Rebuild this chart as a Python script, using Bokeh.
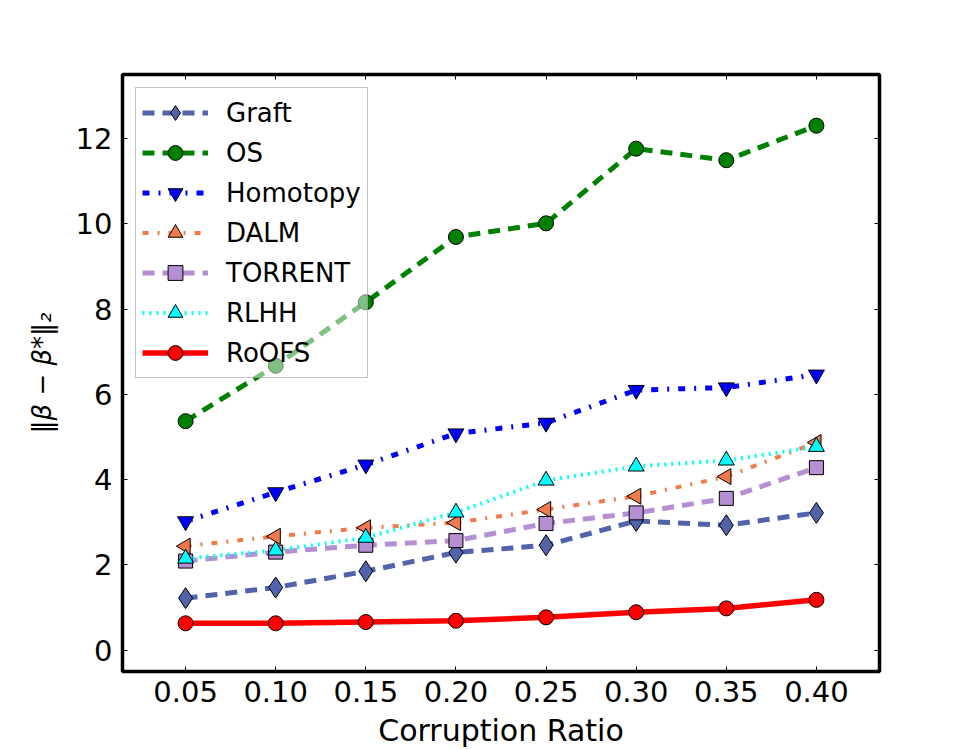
from bokeh.plotting import figure
from bokeh.models import (LinearAxis, FixedTicker, NumeralTickFormatter, Legend, LegendItem,
                          Range1d, CustomJSTickFormatter)
from bokeh.embed import file_html
from bokeh.resources import INLINE
import math

# ---- data ----
ratios = [0.05, 0.10, 0.15, 0.20, 0.25, 0.30, 0.35, 0.40]
graft = [1.22, 1.47, 1.85, 2.29, 2.46, 3.03, 2.93, 3.22]
os_vals = [5.37, 6.67, 8.16, 9.69, 10.01, 11.76, 11.49, 12.30]
homotopy = [3.02, 3.70, 4.35, 5.08, 5.33, 6.10, 6.16, 6.46]
dalm = [2.44, 2.67, 2.87, 2.99, 3.30, 3.61, 4.07, 4.87]
torrent = [2.09, 2.30, 2.46, 2.57, 2.97, 3.22, 3.56, 4.28]
rlhh = [2.15, 2.34, 2.64, 3.23, 3.98, 4.31, 4.45, 4.77]
roofs = [0.63, 0.63, 0.66, 0.69, 0.77, 0.89, 0.98, 1.18]

x_ticks = [0.05, 0.10, 0.15, 0.20, 0.25, 0.30, 0.35, 0.40]
y_ticks = [0, 2, 4, 6, 8, 10, 12]

series = [
    ("Graft", graft, "#5262ab", "dashed_thick", "diamond", 0.0, 21),
    ("OS", os_vals, "#008000", "dashed_thick", "circle", 0.0, 15),
    ("Homotopy", homotopy, "#0000ff", "dashdot", "inverted_triangle", 0.0, 16),
    ("DALM", dalm, "#f07a4c", "dashdot_thin", "triangle", math.pi / 2, 16),
    ("TORRENT", torrent, "#b68fd3", "dashed_thick", "square", 0.0, 14),
    ("RLHH", rlhh, "#00ffff", "dotted", "triangle", 0.0, 16),
    ("RoOFS", roofs, "#ff0000", "solid", "circle", 0.0, 15),
]

styles = {
    "dashed_thick": dict(line_dash="12 8", line_width=5),
    "dashdot": dict(line_dash="7 9 2 9", line_width=5),
    "dashdot_thin": dict(line_dash="6 9 2 9", line_width=4),
    "dotted": dict(line_dash="2 5", line_width=4),
    "solid": dict(line_dash="solid", line_width=5.5),
}

p = figure(width=975, height=750, output_backend="svg", toolbar_location=None,
           x_range=Range1d(0.015, 0.435), y_range=Range1d(-0.5, 13.5),
           min_border_left=122, min_border_top=74, min_border_right=96, min_border_bottom=77)

p.background_fill_color = "white"
p.border_fill_color = "white"
p.xgrid.visible = False
p.ygrid.visible = False
p.outline_line_color = "black"
p.outline_line_width = 3.5

xa = p.xaxis[0]
ya = p.yaxis[0]
xa.ticker = FixedTicker(ticks=x_ticks)
ya.ticker = FixedTicker(ticks=y_ticks)
xa.formatter = NumeralTickFormatter(format="0.00")
for ax in (xa, ya):
    ax.axis_line_color = None
    ax.major_tick_in = 5
    ax.major_tick_out = 0
    ax.major_tick_line_color = "black"
    ax.minor_tick_line_color = None
    ax.major_label_text_font = "DejaVu Sans"
    ax.major_label_text_font_size = "29px"
    ax.major_label_text_color = "black"
    ax.axis_label_text_font = "DejaVu Sans"
    ax.axis_label_text_color = "black"
xa.axis_label = "Corruption Ratio"
xa.axis_label_text_font_size = "30px"
xa.axis_label_text_font_style = "normal"
xa.major_label_standoff = 9
xa.axis_label_standoff = 8
ya.axis_label = "‖β − β*‖₂"
ya.axis_label_text_font_size = "26px"
ya.axis_label_text_font_style = "italic"
ya.major_label_standoff = 10
ya.axis_label_standoff = 16

blank = CustomJSTickFormatter(code="return ''")
for loc, ticks in (("above", x_ticks), ("right", y_ticks)):
    ax = LinearAxis(ticker=FixedTicker(ticks=ticks), formatter=blank,
                    major_label_text_font_size="10px",
                    major_label_standoff=0, axis_line_color=None, major_tick_in=5,
                    major_tick_out=0, minor_tick_line_color=None, major_tick_line_color="black")
    p.add_layout(ax, loc)

items = []
for name, vals, color, style, marker, angle, size in series:
    ln = p.line(ratios, vals, line_color=color, **styles[style])
    sc = p.scatter(ratios, vals, marker=marker, size=size, angle=angle,
                   fill_color=color, line_color="black", line_width=1)
    items.append(LegendItem(label=name, renderers=[ln, sc]))

legend = Legend(items=items, location="top_left", margin=13, padding=6, spacing=3,
                glyph_width=66, glyph_height=37, label_height=37, label_standoff=18,
                label_text_font="DejaVu Sans", label_text_font_size="26px",
                label_text_color="black",
                background_fill_color="white", background_fill_alpha=0.5,
                border_line_color="#888888", border_line_width=1.5)
p.add_layout(legend)

open("out.html", "w").write(file_html(p, INLINE))
